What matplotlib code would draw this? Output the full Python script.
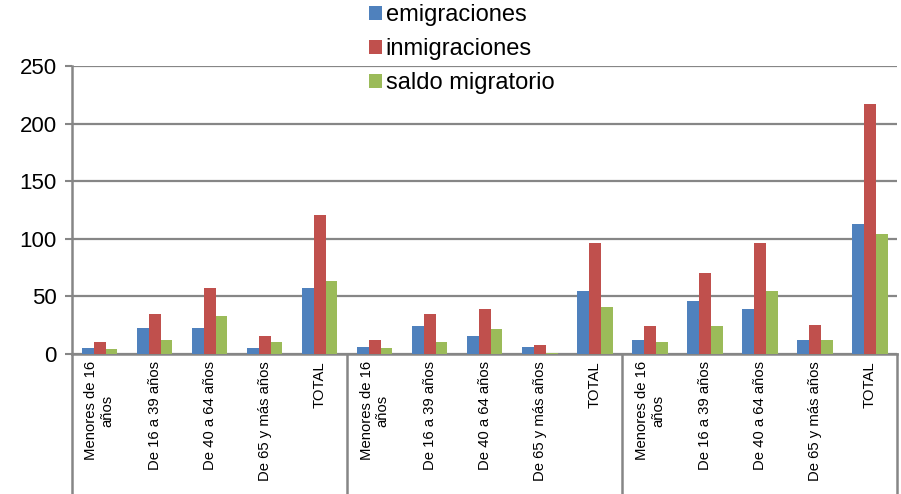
"""
    grouped bar chart: emigraciones / inmigraciones / saldo migratorio
"""
import numpy as np
import matplotlib
matplotlib.use("Agg")
import matplotlib.pyplot as plt

plt.rcParams['font.family'] = ['Liberation Sans', 'DejaVu Sans']

# categories (three blocks of five)
age_groups = ["Menores de 16\naños", "De 16 a 39 años", "De 40 a 64 años",
              "De 65 y más años", "TOTAL"]
categories = age_groups * 3

emigraciones = [5, 23, 23, 5, 57,
                6, 24, 16, 6, 55,
                12, 46, 39, 12, 113]
inmigraciones = [10, 35, 57, 16, 121,
                 12, 35, 39, 8, 96,
                 24, 70, 96, 25, 217]
saldo = [4, 12, 33, 10, 63,
         5, 10, 22, 1, 41,
         10, 24, 55, 12, 104]

series_names = ["emigraciones", "inmigraciones", "saldo migratorio"]
colors = ["#4F81BD", "#C0504D", "#9BBB59"]
y_ticks = [0, 50, 100, 150, 200, 250]

grid_col = "#868686"

fig = plt.figure(figsize=(9.01, 4.94), dpi=100)
ax = fig.add_axes([0.080, 0.2834, 0.916, 0.5830])

x = np.arange(len(categories))
w = 0.215
for i, (vals, name, col) in enumerate(zip([emigraciones, inmigraciones, saldo],
                                          series_names, colors)):
    ax.bar(x + (i - 1) * w, vals, width=w, color=col, label=name,
           zorder=3, linewidth=0)

ax.set_xlim(-0.5, len(categories) - 0.5)
ax.set_ylim(0, 250)
ax.set_yticks(y_ticks)
ax.set_yticklabels([str(t) for t in y_ticks], fontsize=16)
ax.tick_params(axis='y', length=5, width=1.5, color=grid_col, pad=6)
ax.yaxis.grid(True, color=grid_col, linewidth=1.6, zorder=0)

ax.set_xticks(x)
ax.set_xticklabels(categories, rotation=90, fontsize=10.7, va='top',
                   ha='center', multialignment='center')
ax.tick_params(axis='x', length=0, pad=5)

for side in ["top", "right"]:
    ax.spines[side].set_visible(False)
for side in ["left", "bottom"]:
    ax.spines[side].set_color(grid_col)
    ax.spines[side].set_linewidth(1.8)

# group separators below the axis
for xs in [-0.5, 4.5, 9.5, 14.5]:
    ax.axvline(xs, ymin=-0.6, ymax=0, color=grid_col, linewidth=1.8,
               clip_on=False)

fig.legend(loc='upper left', bbox_to_anchor=(0.386, 1.034), frameon=False,
           fontsize=17, handlelength=0.55, handleheight=0.55,
           handletextpad=0.15, labelspacing=0.5)

fig.savefig("out.png", dpi=100)
